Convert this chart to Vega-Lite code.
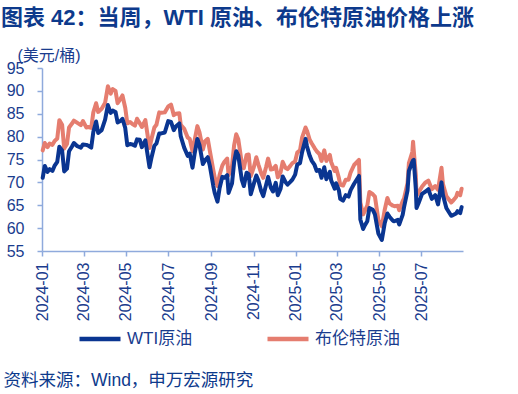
{
"$schema": "https://vega.github.io/schema/vega-lite/v6.json",
"width": 421, "height": 183,
"autosize": {"type": "none"},
"padding": {"left": 42, "top": 68, "right": 55, "bottom": 143},
"background": "white",
"config": {"view": {"stroke": null}, "font": "Liberation Sans, Noto Sans CJK SC", "axis": {"labelOverlap": false}},
"title": {"text": "图表 42：当周，WTI 原油、布伦特原油价格上涨", "anchor": "start", "frame": "group", "orient": "top", "baseline": "alphabetic", "offset": 4, "dx": -41, "dy": 4, "fontSize": 22, "fontWeight": "bold", "color": "#0d3a8c", "font": "Liberation Sans, Noto Sans CJK SC"},
"data": {"values": [
{"date":"2024-01-02","wti":71.0,"brent":77.0},
{"date":"2024-01-05","wti":73.6,"brent":78.6},
{"date":"2024-01-09","wti":72.3,"brent":77.7},
{"date":"2024-01-12","wti":72.9,"brent":78.5},
{"date":"2024-01-16","wti":72.5,"brent":78.2},
{"date":"2024-01-19","wti":73.6,"brent":79.0},
{"date":"2024-01-23","wti":74.5,"brent":79.6},
{"date":"2024-01-26","wti":77.8,"brent":83.6},
{"date":"2024-01-30","wti":77.0,"brent":82.6},
{"date":"2024-02-02","wti":72.4,"brent":77.4},
{"date":"2024-02-06","wti":73.0,"brent":78.4},
{"date":"2024-02-09","wti":76.8,"brent":82.0},
{"date":"2024-02-13","wti":77.8,"brent":82.8},
{"date":"2024-02-16","wti":78.6,"brent":83.5},
{"date":"2024-02-21","wti":77.9,"brent":83.0},
{"date":"2024-02-26","wti":77.6,"brent":82.5},
{"date":"2024-02-29","wti":78.3,"brent":83.4},
{"date":"2024-03-05","wti":78.2,"brent":82.0},
{"date":"2024-03-08","wti":78.0,"brent":82.1},
{"date":"2024-03-12","wti":77.6,"brent":81.9},
{"date":"2024-03-15","wti":81.0,"brent":85.3},
{"date":"2024-03-19","wti":83.3,"brent":87.3},
{"date":"2024-03-22","wti":80.8,"brent":85.4},
{"date":"2024-03-27","wti":81.4,"brent":86.1},
{"date":"2024-04-01","wti":83.7,"brent":87.4},
{"date":"2024-04-05","wti":86.9,"brent":91.0},
{"date":"2024-04-09","wti":85.2,"brent":89.4},
{"date":"2024-04-12","wti":85.7,"brent":90.4},
{"date":"2024-04-16","wti":85.4,"brent":90.0},
{"date":"2024-04-19","wti":83.1,"brent":87.3},
{"date":"2024-04-23","wti":83.4,"brent":88.2},
{"date":"2024-04-26","wti":83.9,"brent":89.0},
{"date":"2024-04-30","wti":81.9,"brent":86.3},
{"date":"2024-05-03","wti":78.1,"brent":82.9},
{"date":"2024-05-07","wti":78.4,"brent":83.2},
{"date":"2024-05-10","wti":78.3,"brent":82.8},
{"date":"2024-05-14","wti":78.0,"brent":82.4},
{"date":"2024-05-17","wti":79.4,"brent":83.9},
{"date":"2024-05-21","wti":79.3,"brent":82.9},
{"date":"2024-05-24","wti":77.7,"brent":82.1},
{"date":"2024-05-29","wti":79.2,"brent":83.6},
{"date":"2024-06-04","wti":73.3,"brent":77.5},
{"date":"2024-06-07","wti":75.5,"brent":79.6},
{"date":"2024-06-11","wti":78.0,"brent":82.0},
{"date":"2024-06-14","wti":78.5,"brent":82.6},
{"date":"2024-06-18","wti":80.7,"brent":85.3},
{"date":"2024-06-21","wti":80.7,"brent":85.2},
{"date":"2024-06-26","wti":80.9,"brent":85.3},
{"date":"2024-07-01","wti":83.4,"brent":86.6},
{"date":"2024-07-05","wti":83.2,"brent":87.0},
{"date":"2024-07-09","wti":81.4,"brent":84.7},
{"date":"2024-07-12","wti":82.2,"brent":85.0},
{"date":"2024-07-17","wti":82.9,"brent":85.1},
{"date":"2024-07-19","wti":80.1,"brent":82.6},
{"date":"2024-07-24","wti":77.6,"brent":81.7},
{"date":"2024-07-29","wti":75.8,"brent":79.8},
{"date":"2024-08-01","wti":76.3,"brent":79.5},
{"date":"2024-08-05","wti":73.2,"brent":76.8},
{"date":"2024-08-08","wti":76.2,"brent":79.2},
{"date":"2024-08-12","wti":79.5,"brent":82.3},
{"date":"2024-08-15","wti":78.2,"brent":81.0},
{"date":"2024-08-20","wti":74.0,"brent":77.2},
{"date":"2024-08-23","wti":74.8,"brent":79.0},
{"date":"2024-08-27","wti":75.5,"brent":79.5},
{"date":"2024-08-30","wti":73.6,"brent":76.9},
{"date":"2024-09-04","wti":69.2,"brent":72.7},
{"date":"2024-09-06","wti":67.7,"brent":71.1},
{"date":"2024-09-10","wti":65.8,"brent":69.2},
{"date":"2024-09-13","wti":68.7,"brent":71.6},
{"date":"2024-09-17","wti":71.2,"brent":73.7},
{"date":"2024-09-20","wti":71.0,"brent":74.5},
{"date":"2024-09-24","wti":71.6,"brent":75.2},
{"date":"2024-09-26","wti":67.7,"brent":71.6},
{"date":"2024-10-01","wti":69.8,"brent":73.6},
{"date":"2024-10-04","wti":74.4,"brent":78.1},
{"date":"2024-10-07","wti":76.8,"brent":80.5},
{"date":"2024-10-10","wti":75.9,"brent":79.4},
{"date":"2024-10-15","wti":70.6,"brent":74.3},
{"date":"2024-10-18","wti":69.2,"brent":73.1},
{"date":"2024-10-22","wti":72.1,"brent":76.0},
{"date":"2024-10-25","wti":71.8,"brent":76.1},
{"date":"2024-10-28","wti":67.4,"brent":71.4},
{"date":"2024-11-01","wti":69.5,"brent":73.1},
{"date":"2024-11-05","wti":71.5,"brent":75.5},
{"date":"2024-11-08","wti":70.4,"brent":73.9},
{"date":"2024-11-12","wti":68.1,"brent":72.0},
{"date":"2024-11-15","wti":67.0,"brent":71.0},
{"date":"2024-11-19","wti":69.4,"brent":73.3},
{"date":"2024-11-22","wti":71.2,"brent":75.2},
{"date":"2024-11-26","wti":68.8,"brent":72.8},
{"date":"2024-11-29","wti":68.0,"brent":72.9},
{"date":"2024-12-03","wti":69.9,"brent":73.6},
{"date":"2024-12-06","wti":67.2,"brent":71.1},
{"date":"2024-12-10","wti":68.6,"brent":72.2},
{"date":"2024-12-13","wti":71.3,"brent":74.5},
{"date":"2024-12-17","wti":70.1,"brent":73.2},
{"date":"2024-12-20","wti":69.5,"brent":72.9},
{"date":"2024-12-24","wti":70.1,"brent":73.6},
{"date":"2024-12-27","wti":70.6,"brent":74.2},
{"date":"2024-12-31","wti":71.7,"brent":74.6},
{"date":"2025-01-03","wti":73.9,"brent":76.5},
{"date":"2025-01-07","wti":74.2,"brent":77.0},
{"date":"2025-01-10","wti":76.6,"brent":79.8},
{"date":"2025-01-15","wti":79.5,"brent":82.0},
{"date":"2025-01-17","wti":77.9,"brent":81.3},
{"date":"2025-01-21","wti":75.8,"brent":79.3},
{"date":"2025-01-24","wti":74.7,"brent":78.5},
{"date":"2025-01-28","wti":73.8,"brent":77.5},
{"date":"2025-01-31","wti":72.5,"brent":76.8},
{"date":"2025-02-04","wti":72.7,"brent":76.2},
{"date":"2025-02-07","wti":71.0,"brent":74.7},
{"date":"2025-02-11","wti":73.3,"brent":77.0},
{"date":"2025-02-14","wti":70.7,"brent":74.7},
{"date":"2025-02-19","wti":72.3,"brent":76.0},
{"date":"2025-02-21","wti":70.4,"brent":74.4},
{"date":"2025-02-26","wti":68.6,"brent":72.5},
{"date":"2025-02-28","wti":69.8,"brent":73.2},
{"date":"2025-03-04","wti":68.3,"brent":71.0},
{"date":"2025-03-06","wti":66.4,"brent":69.5},
{"date":"2025-03-10","wti":66.0,"brent":69.3},
{"date":"2025-03-14","wti":67.2,"brent":70.6},
{"date":"2025-03-18","wti":66.9,"brent":70.6},
{"date":"2025-03-21","wti":68.3,"brent":72.2},
{"date":"2025-03-26","wti":69.7,"brent":73.8},
{"date":"2025-04-02","wti":71.4,"brent":74.9},
{"date":"2025-04-04","wti":61.9,"brent":65.6},
{"date":"2025-04-08","wti":59.8,"brent":63.0},
{"date":"2025-04-10","wti":60.5,"brent":63.6},
{"date":"2025-04-14","wti":61.5,"brent":64.9},
{"date":"2025-04-17","wti":64.4,"brent":67.9},
{"date":"2025-04-22","wti":64.0,"brent":67.4},
{"date":"2025-04-25","wti":63.0,"brent":66.9},
{"date":"2025-04-30","wti":58.8,"brent":61.8},
{"date":"2025-05-05","wti":57.4,"brent":60.4},
{"date":"2025-05-09","wti":61.0,"brent":63.9},
{"date":"2025-05-13","wti":63.2,"brent":66.6},
{"date":"2025-05-16","wti":62.5,"brent":65.4},
{"date":"2025-05-21","wti":61.6,"brent":64.9},
{"date":"2025-05-23","wti":61.5,"brent":64.8},
{"date":"2025-05-28","wti":61.8,"brent":64.9},
{"date":"2025-05-30","wti":60.8,"brent":63.9},
{"date":"2025-06-04","wti":62.9,"brent":65.9},
{"date":"2025-06-06","wti":64.6,"brent":66.5},
{"date":"2025-06-11","wti":68.2,"brent":69.8},
{"date":"2025-06-13","wti":72.5,"brent":74.2},
{"date":"2025-06-18","wti":74.5,"brent":76.7},
{"date":"2025-06-19","wti":74.8,"brent":78.9},
{"date":"2025-06-20","wti":74.9,"brent":77.0},
{"date":"2025-06-23","wti":68.5,"brent":71.5},
{"date":"2025-06-24","wti":64.4,"brent":67.1},
{"date":"2025-06-27","wti":65.5,"brent":67.8},
{"date":"2025-07-02","wti":67.5,"brent":69.1},
{"date":"2025-07-07","wti":68.0,"brent":70.0},
{"date":"2025-07-11","wti":68.5,"brent":70.4},
{"date":"2025-07-16","wti":66.4,"brent":68.5},
{"date":"2025-07-21","wti":67.2,"brent":69.2},
{"date":"2025-07-25","wti":65.2,"brent":68.4},
{"date":"2025-07-30","wti":70.0,"brent":73.2},
{"date":"2025-08-01","wti":67.3,"brent":69.7},
{"date":"2025-08-06","wti":64.4,"brent":67.0},
{"date":"2025-08-08","wti":63.9,"brent":66.6},
{"date":"2025-08-13","wti":62.7,"brent":65.6},
{"date":"2025-08-15","wti":62.8,"brent":65.9},
{"date":"2025-08-20","wti":63.2,"brent":66.8},
{"date":"2025-08-22","wti":63.7,"brent":67.7},
{"date":"2025-08-26","wti":63.3,"brent":67.2},
{"date":"2025-08-28","wti":64.6,"brent":68.6}
]},
"encoding": {
  "x": {"field": "date", "type": "temporal",
        "scale": {"type": "utc", "domain": [{"year": 2024, "month": 1, "date": 1, "utc": true}, {"year": 2025, "month": 8, "date": 30, "utc": true}]},
        "axis": {"tickCount": {"interval": "month", "step": 2},
           "format": "%Y-%m", "labelAngle": -90, "labelFontSize": 16, "labelColor": "#1a3c8e", "labelFont": "Liberation Sans", "labelOverlap": false,
           "domainColor": "#8faadc", "domainWidth": 1.5, "tickColor": "#8faadc", "tickWidth": 1.5, "tickSize": 5, "labelPadding": 6, "grid": false,
           "title": "资料来源：Wind，申万宏源研究", "titleX": -39, "titleY": 134, "titleAlign": "left", "titleAnchor": null, "titleBaseline": "alphabetic",
           "titleFontSize": 17.5, "titleFontWeight": "normal", "titleColor": "#0d3a8c", "titleFont": "Liberation Sans, Noto Sans CJK SC"}}
},
"layer": [
{"mark": {"type": "line", "strokeWidth": 4, "strokeJoin": "round", "strokeCap": "round"},
 "encoding": {
  "y": {"field": "brent", "type": "quantitative",
        "scale": {"domain": [55, 95], "nice": false, "zero": false},
        "axis": {"tickCount": 8, "labelFontSize": 16, "labelColor": "#1a3c8e", "labelFont": "Liberation Sans", "labelOverlap": false,
           "domainColor": "#8faadc", "domainWidth": 1.5, "tickColor": "#8faadc", "tickWidth": 1.5, "tickSize": 5, "labelPadding": 13, "grid": false,
           "title": "(美元/桶)", "titleAngle": 0, "titleX": -25, "titleY": -8, "titleAlign": "left", "titleBaseline": "alphabetic",
           "titleFontSize": 16, "titleFontWeight": "normal", "titleColor": "#1a3c8e", "titleFont": "Liberation Sans, Noto Sans CJK SC"}},
  "color": {"datum": "布伦特原油", "scale": {"domain": ["WTI原油", "布伦特原油"], "range": ["#0a3591", "#e57d6f"]},
        "legend": {"orient": "none", "legendX": 35, "legendY": 248, "direction": "horizontal", "title": null,
           "symbolType": "stroke", "symbolSize": 1681, "symbolStrokeWidth": 4.5, "labelFontSize": 17, "labelColor": "#1a3c8e",
           "labelFont": "Liberation Sans, Noto Sans CJK SC", "labelOffset": 4, "columnPadding": 65, "labelLimit": 300}}
 }},
{"mark": {"type": "line", "strokeWidth": 4, "strokeJoin": "round", "strokeCap": "round"},
 "encoding": {
  "y": {"field": "wti", "type": "quantitative"},
  "color": {"datum": "WTI原油"}
 }}
]
}
